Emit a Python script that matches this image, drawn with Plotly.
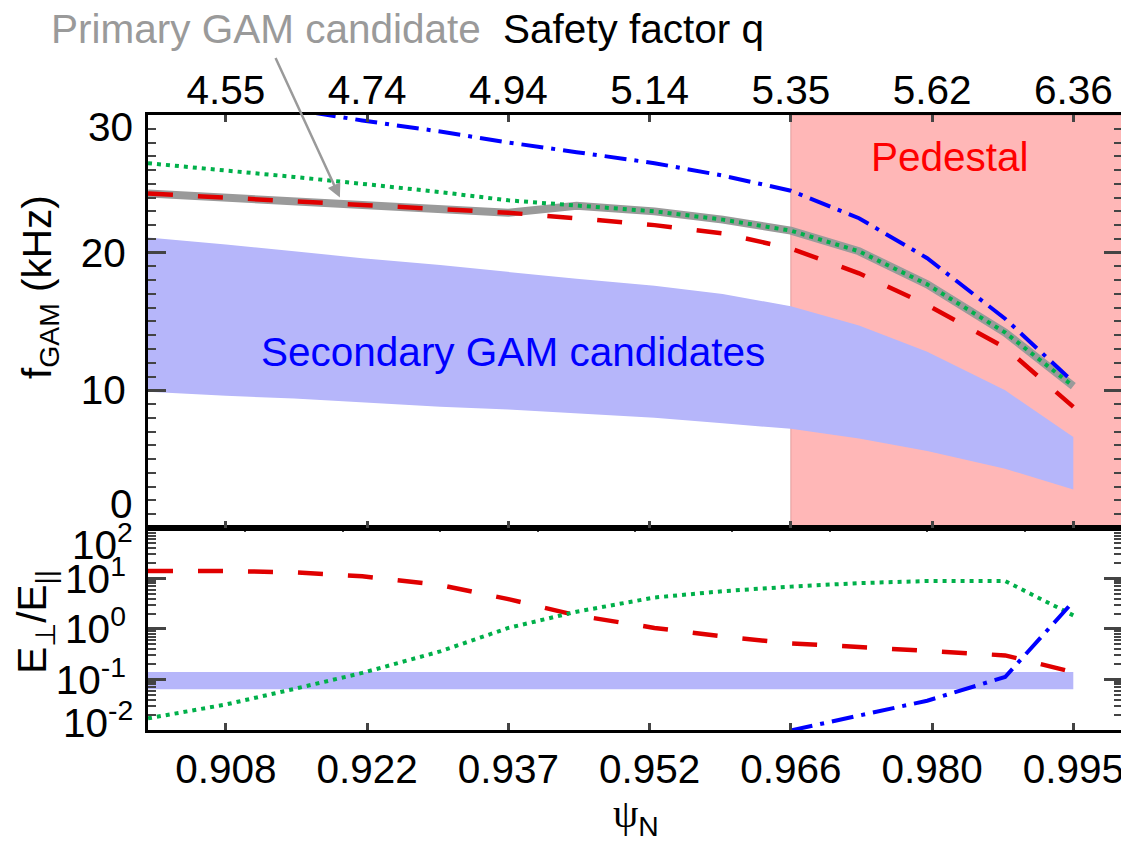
import plotly.graph_objects as go

# ---------------- data ----------------
psi = [0.900, 0.908, 0.915, 0.922, 0.930, 0.937, 0.944, 0.952, 0.959, 0.966, 0.973, 0.980, 0.988, 0.995]

# top panel: GAM frequency (kHz)
f_red = [24.3, 24.0, 23.7, 23.4, 23.1, 22.9, 22.5, 22.0, 21.4, 20.3, 18.5, 16.2, 13.1, 8.8]
f_green = [26.5, 26.0, 25.5, 25.0, 24.4, 23.8, 23.4, 23.0, 22.4, 21.6, 20.1, 17.7, 14.2, 10.3]
f_blue = [32.1, 31.2, 30.4, 29.6, 28.8, 28.0, 27.3, 26.5, 25.6, 24.5, 22.5, 19.6, 15.2, 10.6]
f_primary = [24.3, 24.0, 23.7, 23.4, 23.1, 22.9, 23.4, 23.0, 22.4, 21.6, 20.1, 17.7, 14.2, 10.3]
sec_upper = [21.1, 20.6, 20.1, 19.6, 19.1, 18.6, 18.1, 17.6, 17.0, 16.1, 14.7, 12.8, 10.0, 6.6]
sec_lower = [9.9, 9.6, 9.4, 9.1, 8.8, 8.6, 8.3, 8.0, 7.6, 7.2, 6.5, 5.6, 4.3, 2.8]

# bottom panel: E_perp / E_par
r_red = [14.1, 14.1, 13.2, 11.1, 7.4, 3.9, 1.86, 1.05, 0.71, 0.52, 0.44, 0.36, 0.30, 0.14]
r_green = [0.017, 0.032, 0.065, 0.135, 0.36, 1.05, 2.2, 4.2, 5.6, 6.9, 8.1, 8.9, 8.9, 1.86]
r_blue = [None, None, None, None, None, None, None, None, None, 0.0098, 0.019, 0.038, 0.112, 3.5]
band_upper = [0.14] * 14
band_lower = [0.064] * 14

pedestal_start = 0.966

psi_tickvals = [0.908, 0.9225, 0.937, 0.9515, 0.966, 0.9805, 0.995]
psi_ticktext = ["0.908", "0.922", "0.937", "0.952", "0.966", "0.980", "0.995"]
q_ticktext = ["4.55", "4.74", "4.94", "5.14", "5.35", "5.62", "6.36"]

f_ticks = [0, 10, 20, 30]
r_ticks = [0.01, 0.1, 1, 10, 100]

# ---------------- style ----------------
FONT = "Liberation Sans, Arial, Helvetica, sans-serif"
FS = 40.5
RED = "#e00000"
GREEN = "#00b04a"
BLUE = "#0000ff"
GRAY = "#9a9a9a"
LAV = "#b6b6fa"
PINK = "#ffb7b7"

fig = go.Figure()

# top panel
fig.add_trace(go.Scatter(x=psi, y=sec_lower, xaxis="x2", yaxis="y2", mode="lines",
                         line=dict(width=0, color=LAV), showlegend=False, hoverinfo="skip"))
fig.add_trace(go.Scatter(x=psi, y=sec_upper, xaxis="x2", yaxis="y2", mode="lines",
                         line=dict(width=0, color=LAV), fill="tonexty", fillcolor=LAV,
                         showlegend=False, hoverinfo="skip"))
fig.add_trace(go.Scatter(x=psi, y=f_primary, xaxis="x2", yaxis="y2", mode="lines",
                         line=dict(width=8, color=GRAY), showlegend=False))
fig.add_trace(go.Scatter(x=psi, y=f_red, xaxis="x2", yaxis="y2", mode="lines",
                         line=dict(width=4.5, color=RED, dash="25px,25px"), showlegend=False))
fig.add_trace(go.Scatter(x=psi, y=f_blue, xaxis="x2", yaxis="y2", mode="lines",
                         line=dict(width=4, color=BLUE, dash="22px,8px,4px,8px"), showlegend=False))
# green drawn on the overlaying top (q) axis so it lies on top and that axis gets rendered
fig.add_trace(go.Scatter(x=psi, y=f_green, xaxis="x3", yaxis="y2", mode="lines",
                         line=dict(width=4, color=GREEN, dash="4px,5px"), showlegend=False))

# bottom panel
fig.add_trace(go.Scatter(x=psi, y=band_lower, xaxis="x", yaxis="y", mode="lines",
                         line=dict(width=0, color=LAV), showlegend=False, hoverinfo="skip"))
fig.add_trace(go.Scatter(x=psi, y=band_upper, xaxis="x", yaxis="y", mode="lines",
                         line=dict(width=0, color=LAV), fill="tonexty", fillcolor=LAV,
                         showlegend=False, hoverinfo="skip"))
fig.add_trace(go.Scatter(x=psi, y=r_red, xaxis="x", yaxis="y", mode="lines",
                         line=dict(width=4.5, color=RED, dash="25px,25px"), showlegend=False))
fig.add_trace(go.Scatter(x=psi, y=r_green, xaxis="x", yaxis="y", mode="lines",
                         line=dict(width=4, color=GREEN, dash="4px,5px"), showlegend=False))
fig.add_trace(go.Scatter(x=psi, y=r_blue, xaxis="x4", yaxis="y", mode="lines",
                         line=dict(width=4, color=BLUE, dash="22px,8px,4px,8px"), showlegend=False))

# pedestal shading
fig.add_shape(type="rect", xref="x2", yref="y2 domain", x0=pedestal_start, x1=1.0, y0=0, y1=1,
              fillcolor=PINK, line=dict(width=0.8, color="#d89090"), layer="below")

XR = [0.9, 1.0]
axline = dict(showline=True, linecolor="black", linewidth=3, showgrid=False, zeroline=False,
              automargin=False)
tfont = dict(family=FONT, size=FS, color="black")

log_minor = [m * 10.0 ** e for e in (-2, -1, 0, 1) for m in range(2, 10)]

fig.update_layout(
    width=1121, height=837,
    margin=dict(l=140, r=7, t=107, b=115),
    paper_bgcolor="white", plot_bgcolor="white",
    font=dict(family=FONT, size=FS, color="black"),
    showlegend=False,
    xaxis=dict(domain=[0, 1], range=XR, anchor="y", tickmode="array",
               tickvals=psi_tickvals, ticktext=psi_ticktext, ticks="inside", ticklen=7,
               tickwidth=2.5, mirror=True, tickfont=tfont, ticklabelstandoff=1, **axline),
    xaxis4=dict(overlaying="x", anchor="y", side="top", range=XR, tickmode="linear",
                tick0=0.9, dtick=0.01, ticks="inside", ticklen=4, tickwidth=2,
                showticklabels=False, showline=False, showgrid=False, zeroline=False,
                automargin=False),
    yaxis=dict(domain=[0, 0.3285], type="log", range=[-2, 2], anchor="x",
               tickmode="array", tickvals=r_ticks,
               ticktext=["", "10<sup>-1</sup>", "10<sup>0</sup>", "10<sup>1</sup>", ""],
               ticks="inside", ticklen=18, tickwidth=3, mirror="ticks", tickfont=tfont,
               ticklabelstandoff=11,
               minor=dict(tickvals=log_minor, ticks="inside", ticklen=8, tickwidth=2),
               **axline),
    xaxis2=dict(domain=[0, 1], range=XR, anchor="y2", tickmode="array",
                tickvals=psi_tickvals, ticks="inside", ticklen=7, tickwidth=2.5,
                showticklabels=False, mirror=True, **axline),
    xaxis3=dict(overlaying="x2", anchor="y2", side="top", range=XR, tickmode="array",
                tickvals=psi_tickvals, ticktext=q_ticktext, ticks="inside", ticklen=7,
                tickwidth=2.5, tickfont=tfont, ticklabelstandoff=2,
                showline=False, showgrid=False, zeroline=False, automargin=False),
    yaxis2=dict(domain=[0.3285, 1], range=[0, 30], anchor="x2", tickmode="array",
                tickvals=f_ticks, ticktext=["", "10", "20", ""],
                ticks="inside", ticklen=18, tickwidth=3, mirror="ticks", tickfont=tfont,
                ticklabelstandoff=11,
                minor=dict(dtick=1, ticks="inside", ticklen=8, tickwidth=2),
                **axline),
)

ann = []
# end tick labels nudged inward (as in the original)
ann.append(dict(text="30", xref="paper", x=0, xanchor="right", xshift=-13,
                yref="y2", y=30, yanchor="middle", yshift=-12, showarrow=False, font=tfont))
ann.append(dict(text="0", xref="paper", x=0, xanchor="right", xshift=-13,
                yref="y2", y=0, yanchor="middle", yshift=24, showarrow=False, font=tfont))
ann.append(dict(text="10<sup>2</sup>", xref="paper", x=0, xanchor="right", xshift=-13,
                yref="y", y=2, yanchor="middle", yshift=-14, showarrow=False, font=tfont))
ann.append(dict(text="10<sup>-2</sup>", xref="paper", x=0, xanchor="right", xshift=-13,
                yref="y", y=-2, yanchor="middle", yshift=10, showarrow=False, font=tfont))
# axis titles
ann.append(dict(text="f<sub>GAM</sub> (kHz)", xref="paper", x=-0.111, yref="paper", y=0.72,
                xanchor="center", yanchor="middle", textangle=-90, showarrow=False, font=tfont))
ann.append(dict(text="E<sub>⊥</sub>/E<sub>||</sub>", xref="paper", x=-0.116, yref="paper", y=0.176,
                xanchor="center", yanchor="middle", textangle=-90, showarrow=False, font=tfont))
ann.append(dict(text='<span style="font-family:Liberation Serif, Times New Roman, serif">ψ</span><sub>N</sub>',
                xref="paper", x=0.501, yref="paper", y=-0.14, xanchor="center", yanchor="middle",
                showarrow=False, font=tfont))
# top texts
ann.append(dict(text="Primary GAM candidate", xref="paper", x=0.121, yref="paper", y=1.14,
                xanchor="center", yanchor="middle", showarrow=False,
                font=dict(family=FONT, size=FS, color=GRAY)))
ann.append(dict(text="Safety factor q", xref="paper", x=0.498, yref="paper", y=1.14,
                xanchor="center", yanchor="middle", showarrow=False, font=tfont))
# arrow to primary candidate
ann.append(dict(text="", xref="x2", yref="y2", x=0.9197, y=24.0, ax=-65, ay=-141,
                showarrow=True, arrowhead=2, arrowsize=1.1, arrowwidth=2.5, arrowcolor=GRAY))
# in-plot labels
ann.append(dict(text="Pedestal", xref="x2", yref="y2", x=0.9823, y=26.96, showarrow=False,
                font=dict(family=FONT, size=FS, color="#ff0000")))
ann.append(dict(text="Secondary GAM candidates", xref="x2", yref="y2", x=0.9375, y=12.8,
                showarrow=False, font=dict(family=FONT, size=FS, color=BLUE)))
fig.update_layout(annotations=ann)

fig.write_html("out.html")
